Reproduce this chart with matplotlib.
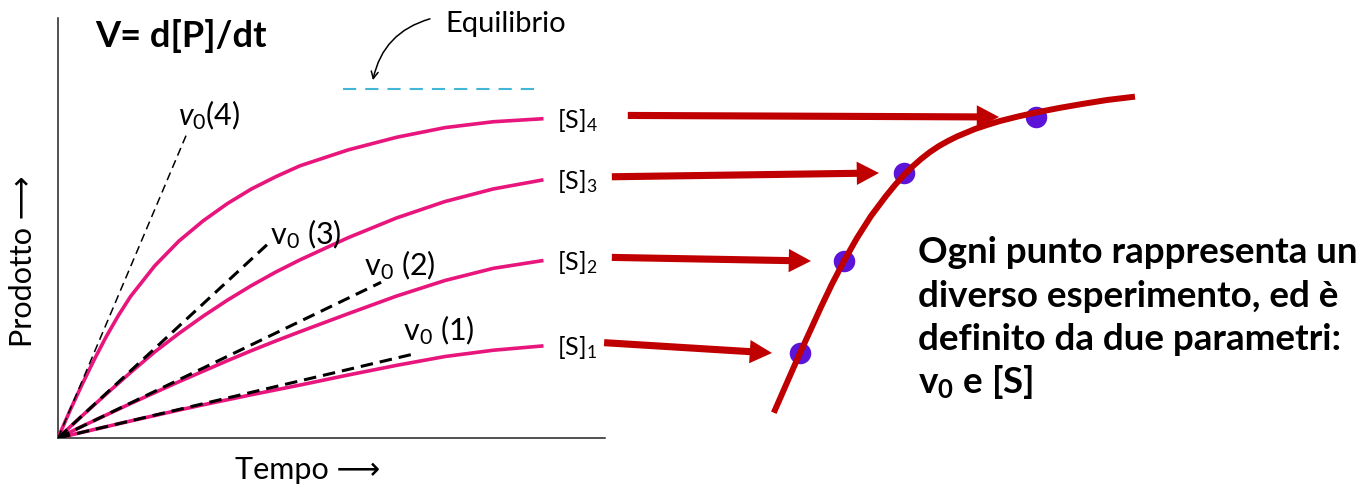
import matplotlib
matplotlib.use('Agg')
import matplotlib.pyplot as plt

plt.rcParams['font.family'] = ['Lato', 'DejaVu Sans']
plt.rcParams['mathtext.fontset'] = 'custom'
plt.rcParams['mathtext.rm'] = 'Lato'
plt.rcParams['mathtext.it'] = 'Lato:italic'
plt.rcParams['mathtext.bf'] = 'Lato:bold'
plt.rcParams['lines.scale_dashes'] = False

# progress curves: product vs time for four substrate concentrations
time = [0, 0.25, 0.5, 0.75, 1, 1.25, 1.5, 2, 2.5, 3, 3.5, 4, 4.5, 5, 6, 7, 8, 9, 10]
prod_s1 = [0, 0.68, 1.36, 2.03, 2.7, 3.38, 4.05, 5.35, 6.65, 7.9, 9.1, 10.3,
           11.45, 12.6, 15.0, 17.3, 19.4, 20.9, 21.9]
prod_s2 = [0, 1.4, 2.8, 4.15, 5.5, 6.85, 8.2, 10.8, 13.4, 15.9, 18.4, 20.8,
           23.1, 25.3, 29.6, 33.8, 37.5, 40.4, 42.2]
prod_s3 = [0, 2.65, 5.3, 7.9, 10.5, 13.05, 15.6, 20.5, 24.9, 29.0, 32.8, 36.3,
           39.5, 42.4, 47.7, 52.4, 56.3, 59.3, 61.4]
prod_s4 = [0, 6.6, 12.8, 18.7, 24.2, 29.2, 33.7, 41.0, 46.9, 51.7, 55.8, 59.3,
           62.2, 64.8, 68.6, 71.6, 73.9, 75.3, 76.0]
conc_labels = ['[S]$_1$', '[S]$_2$', '[S]$_3$', '[S]$_4$']

# initial rates (tangent slopes) and how far each tangent is drawn
v0_slope = [2.72, 5.55, 10.65, 27.2]
v0_t_end = [7.34, 6.68, 4.32, 2.65]
v0_labels = ['v$_0$ (1)', 'v$_0$ (2)', 'v$_0$ (3)', '$v_0$(4)']

equilibrium = 83.1
equilibrium_t = [5.89, 10.03]

# right panel: v0 vs [S]
mm_s = [7.5, 8.9, 10.0, 11.1, 12.1, 13.2, 14.4, 15.7, 16.4, 17.1, 18.6, 19.5,
        20.4, 21.2, 22.1, 23.0, 23.9, 24.8, 25.7, 27.5, 28.7, 30.0, 31.8,
        33.6, 35.9, 38.2, 40.7, 43.2]
mm_v = [3.0, 6.2, 8.7, 11.1, 13.3, 15.6, 17.9, 20.2, 21.3, 22.4, 24.4, 25.5,
        26.5, 27.3, 28.1, 28.8, 29.4, 29.9, 30.35, 31.1, 31.5, 31.9, 32.35,
        32.75, 33.2, 33.6, 34.0, 34.3]
point_s = [10.0, 14.4, 20.4, 33.6]
point_v = [8.7, 17.9, 26.7, 32.3]

W, H = 1370, 492
fig = plt.figure(figsize=(W / 100, H / 100), dpi=100)

# left panel
ax = fig.add_axes([58 / W, 54 / H, 547 / W, 420 / H])
ax.set_xlim(0, 547 / 48.37)
ax.set_ylim(0, 100)
ax.set_xticks([])
ax.set_yticks([])
for side in ['top', 'right']:
    ax.spines[side].set_visible(False)
for side in ['left', 'bottom']:
    ax.spines[side].set_linewidth(1.1)
    ax.spines[side].set_color('#222222')

pink = '#e8157c'
curves = [prod_s1, prod_s2, prod_s3, prod_s4]
for prod, lab in zip(curves, conc_labels):
    ax.plot(time, prod, color=pink, lw=2.6, zorder=3)
    ax.annotate(lab, xy=(time[-1], prod[-1]), xytext=(15, -9),
                textcoords='offset pixels', ha='left', va='baseline',
                fontsize=18, annotation_clip=False)

label_offsets = [(-10, 14), (-17, 7), (3, 1), (-8, 10)]
for i in range(4):
    te = v0_t_end[i]
    if i == 3:
        ax.plot([0, te], [0, v0_slope[i] * te], color='k', lw=1.1,
                dashes=(6, 3.6), zorder=4)
    else:
        ax.plot([0, te], [0, v0_slope[i] * te], color='k', lw=2.2,
                dashes=(9, 5), zorder=4)
    ax.annotate(v0_labels[i], xy=(te, v0_slope[i] * te),
                xytext=label_offsets[i], textcoords='offset pixels',
                ha='left', va='baseline', fontsize=22)

ax.plot(equilibrium_t, [equilibrium, equilibrium], color='#41b6d6', lw=1.5,
        dashes=(9.5, 6.5))
ax.text(8.0, 96.7, 'Equilibrio', fontsize=21, ha='left', va='baseline')
ax.annotate('', xy=(6.51, 85.2), xytext=(7.69, 99.8),
            arrowprops=dict(arrowstyle='->,head_length=0.5,head_width=0.25',
                            connectionstyle='arc3,rad=0.3', color='k', lw=1.1,
                            shrinkA=0, shrinkB=0),
            annotation_clip=False)

ax.text(0.765, 93.1, 'V= d[P]/dt', fontsize=26, fontweight='bold',
        ha='left', va='baseline')
ax.text(0.457, -0.076, 'Tempo \u27f6', transform=ax.transAxes, fontsize=22,
        ha='center', va='center')
ax.text(-0.064, 0.42, 'Prodotto \u27f6', transform=ax.transAxes, fontsize=22,
        ha='center', va='center', rotation=90)

# right panel
ax2 = fig.add_axes([700 / W, 52 / H, 500 / W, 380 / H])
ax2.set_xlim(0, 50)
ax2.set_ylim(0, 38)
ax2.axis('off')
ax2.plot(point_s, point_v, 'o', color='#5b14d8', ms=15.5, mec='none', zorder=2)
ax2.plot(mm_s, mm_v, color='#c00000', lw=4.3, zorder=3)

arrow_start_t = [11.29, 11.45, 11.45, 11.78]
arrow_gap = [2.8, 3.3, 2.5, 3.7]
for i in range(4):
    ax2.annotate('', xy=(point_s[i] - arrow_gap[i], point_v[i]),
                 xytext=(arrow_start_t[i], curves[i][-1] + 0.8),
                 textcoords=ax.transData,
                 arrowprops=dict(arrowstyle='simple,head_length=1.0,head_width=1.05,tail_width=0.32',
                                 mutation_scale=16, color='#c00000', lw=0,
                                 shrinkA=0, shrinkB=0),
                 annotation_clip=False)

lines = ['Ogni punto rappresenta un', 'diverso esperimento, ed \u00e8',
         'definito da due parametri:', r'v$_\mathbf{0}$ e [S]']
baselines = [263, 307, 350, 393]
for txt, yb in zip(lines, baselines):
    fig.text(918 / W, 1 - yb / H, txt, fontsize=26.5, fontweight='bold',
             ha='left', va='baseline')

fig.savefig('out.png', dpi=100)
